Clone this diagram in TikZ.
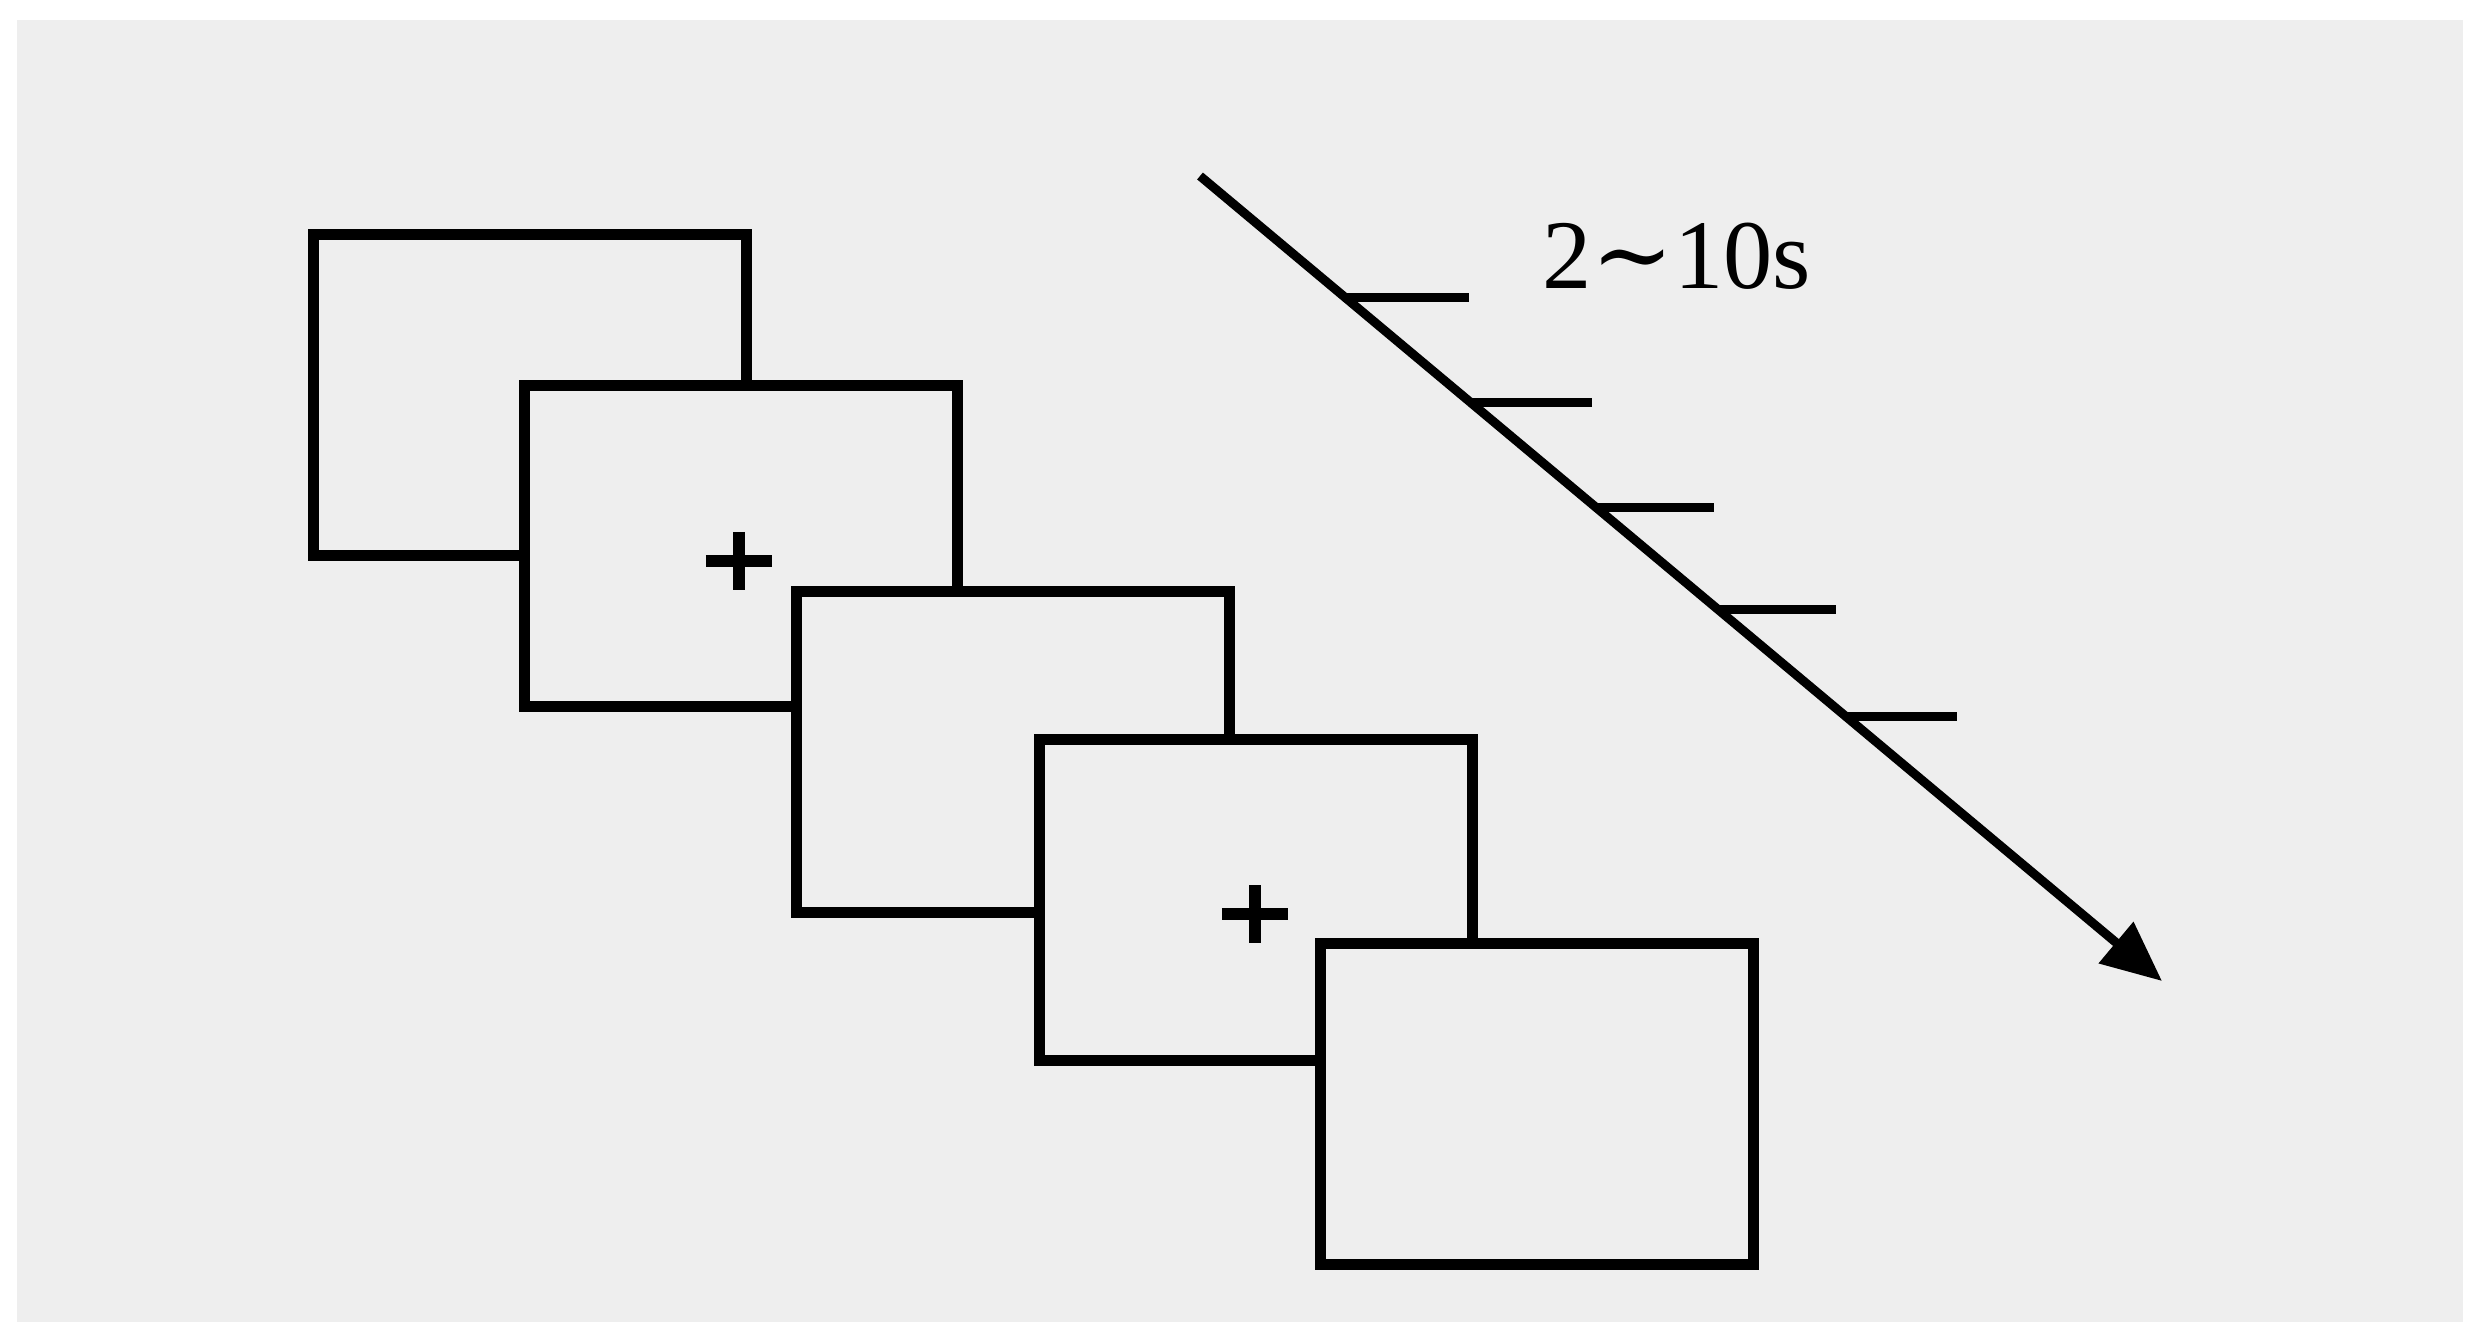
\documentclass[tikz,border=0pt]{standalone}
\usepackage{fontspec}
\setmainfont{Liberation Serif}
\newfontfamily\tildefont{DejaVu Serif}
\usetikzlibrary{arrows.meta}
\definecolor{bg}{HTML}{EEEEEE}
\begin{document}
\begin{tikzpicture}[x=0.01cm,y=-0.01cm,
  screen/.style={draw=black,line width=0.11cm,fill=bg,rectangle,minimum width=4.33cm,minimum height=3.2cm,inner sep=0pt},
  plusline/.style={line width=0.12cm},
  tick/.style={line width=0.09cm},
  timeline/.style={line width=0.09cm,-{Triangle[length=0.6cm,width=0.52cm]}}]
\useasboundingbox (0,0) rectangle (2482,1339);
\fill[bg] (17,20) rectangle (2463,1322);
\node[screen] (s1) at (530,395) {};
\node[screen] (s2) at (741,546) {};
\node[screen] (s3) at (1013,752) {};
\node[screen] (s4) at (1256,900) {};
\node[screen] (s5) at (1537,1104) {};
% fixation crosses
\coordinate (p1) at (739,561);
\coordinate (p2) at (1255,914);
\foreach \p in {p1,p2}{
  \draw[plusline] ([xshift=-0.33cm]\p) -- ([xshift=0.33cm]\p);
  \draw[plusline] ([yshift=0.29cm]\p) -- ([yshift=-0.29cm]\p);
}
% time arrow
\coordinate (a0) at (1200,176);
\coordinate (a1) at (2162,981);
\draw[timeline] (a0) -- (a1);
\foreach \xa/\xb/\y in {1343/1469/297,1470/1592/402,1595/1714/507,1717/1836/609,1845/1957/716}{
  \draw[tick] (\xa,\y) -- (\xb,\y);
}
\node[font=\fontsize{28}{32}\selectfont,inner sep=0pt] (lbl) at (1677,256) {2{\tildefont ∼}10s};
\end{tikzpicture}
\end{document}
